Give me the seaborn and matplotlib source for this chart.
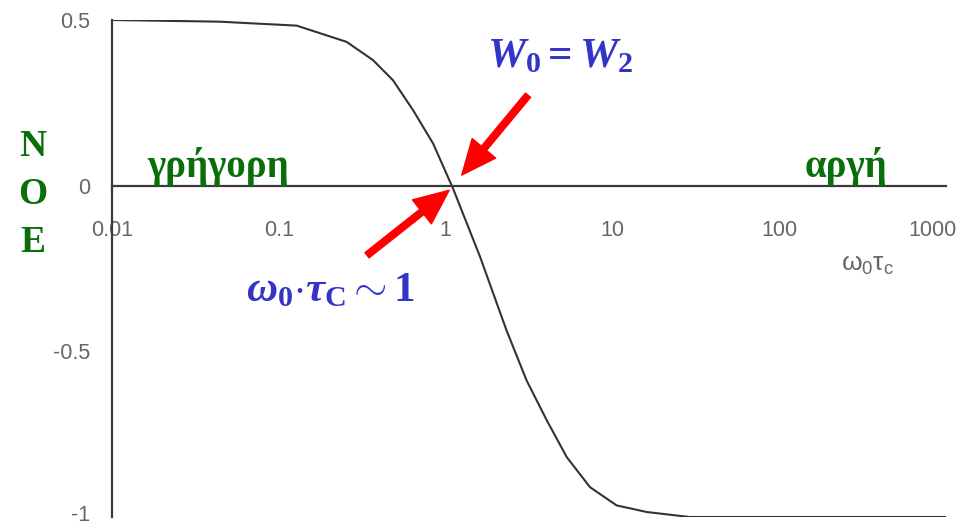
import numpy as np
import pandas as pd
import matplotlib
matplotlib.use("Agg")
import matplotlib.pyplot as plt
import matplotlib.transforms as mtransforms
import seaborn as sns

# NOE enhancement versus omega_0 * tau_c
omega_tau = [0.01, 0.044, 0.128, 0.255, 0.367, 0.484, 0.638, 0.84, 1.107, 1.61,
             2.32, 3.06, 4.04, 5.32, 7.34, 10.6, 16.1, 29, 100, 1000]
noe = [0.5, 0.495, 0.483, 0.434, 0.379, 0.318, 0.228, 0.128, -0.008, -0.215,
       -0.437, -0.588, -0.708, -0.819, -0.910, -0.965, -0.985, -1.0, -1.0, -1.0]

x_ticks = [0.01, 0.1, 1, 10, 100, 1000]
x_tick_labels = ["0.01", "0.1", "1", "10", "100", "1000"]
y_ticks = [-1, -0.5, 0, 0.5]
y_tick_labels = ["-1", "-0.5", "0", "0.5"]

sns.set_style("white")
plt.rcParams["font.family"] = ["Liberation Sans", "DejaVu Sans"]
plt.rcParams["mathtext.fontset"] = "custom"
plt.rcParams["mathtext.rm"] = "Liberation Serif:bold"
plt.rcParams["mathtext.it"] = "Liberation Serif:italic:bold"
plt.rcParams["mathtext.bf"] = "Liberation Serif:bold"
plt.rcParams["mathtext.sf"] = "Liberation Sans"

fig = plt.figure(figsize=(9.59, 5.26), dpi=100)
ax = fig.add_axes([112 / 959, 1 - 517 / 526, (946 - 112) / 959, (517 - 20) / 526])

df = pd.DataFrame({"wt": omega_tau, "noe": noe})
sns.lineplot(data=df, x="wt", y="noe", ax=ax, color="#333333", linewidth=1.5)

ax.set_xscale("log")
ax.set_xlim(0.01, 1000)
ax.set_ylim(-1, 0.5)

axis_color = "#3a3a3a"
label_color = "#666666"
for side in ("top", "right"):
    ax.spines[side].set_visible(False)
ax.spines["bottom"].set_position(("data", 0))
ax.spines["bottom"].set_color(axis_color)
ax.spines["left"].set_color(axis_color)
ax.spines["bottom"].set_linewidth(1.6)
ax.spines["left"].set_linewidth(1.6)

ax.set_xticks(x_ticks)
ax.set_xticklabels(x_tick_labels)
ax.minorticks_off()
ax.set_yticks(y_ticks)
ax.set_yticklabels(y_tick_labels)
ax.tick_params(axis="x", direction="out", length=5, width=1.4, color=axis_color,
               pad=20, labelsize=15.5, labelcolor=label_color)
ax.tick_params(axis="y", direction="out", length=4, width=1.4, color=axis_color,
               pad=12, labelsize=15.5, labelcolor=label_color)
ax.set_xlabel("")
ax.set_ylabel("")

# keep the outermost tick labels inside the figure
last = ax.get_xticklabels()[-1]
last.set_transform(last.get_transform() +
                   mtransforms.ScaledTranslation(-14 / 100, 0, fig.dpi_scale_trans))
lowest = ax.get_yticklabels()[0]
lowest.set_transform(lowest.get_transform() +
                     mtransforms.ScaledTranslation(0, 4 / 100, fig.dpi_scale_trans))

# axis title for the horizontal axis
ax.text(340, -0.24, r"$\mathsf{\omega_0\tau_c}$", color=label_color, fontsize=19,
        ha="center", va="center")

# vertical NOE label
green = "#0a6e0a"
for letter, ypx in (("N", 146), ("O", 195), ("E", 242)):
    fig.text(33 / 959, 1 - ypx / 526, letter, color=green, fontsize=27,
             fontweight="bold", family="Liberation Serif", ha="center", va="center")

# regime labels
ax.text(0.0162, 0.0, "γρήγορη", color=green, fontsize=28, fontweight="bold",
        family="Liberation Serif", ha="left", va="bottom")
ax.text(143, 0.0, "αργή", color=green, fontsize=28, fontweight="bold",
        family="Liberation Serif", ha="left", va="bottom")

# annotations at the zero crossing
blue = "#3434c8"
ax.text(4.85, 0.39, r"$W_0 = W_2$", color=blue, fontsize=31, ha="center", va="center")
ax.text(0.203, -0.316, r"$\omega_0{\cdot}\tau_\mathrm{C}\sim 1$", color=blue,
        fontsize=31, ha="center", va="center")

arrow_style = "simple,head_length=1.25,head_width=1.1,tail_width=0.24"
ax.annotate("", xy=(1.25, 0.032), xytext=(3.12, 0.273),
            arrowprops=dict(arrowstyle=arrow_style, color="#ff0000",
                            mutation_scale=20, shrinkA=0, shrinkB=0))
ax.annotate("", xy=(1.05, -0.014), xytext=(0.338, -0.21),
            arrowprops=dict(arrowstyle=arrow_style, color="#ff0000",
                            mutation_scale=20, shrinkA=0, shrinkB=0))

fig.savefig("out.png", dpi=100)
